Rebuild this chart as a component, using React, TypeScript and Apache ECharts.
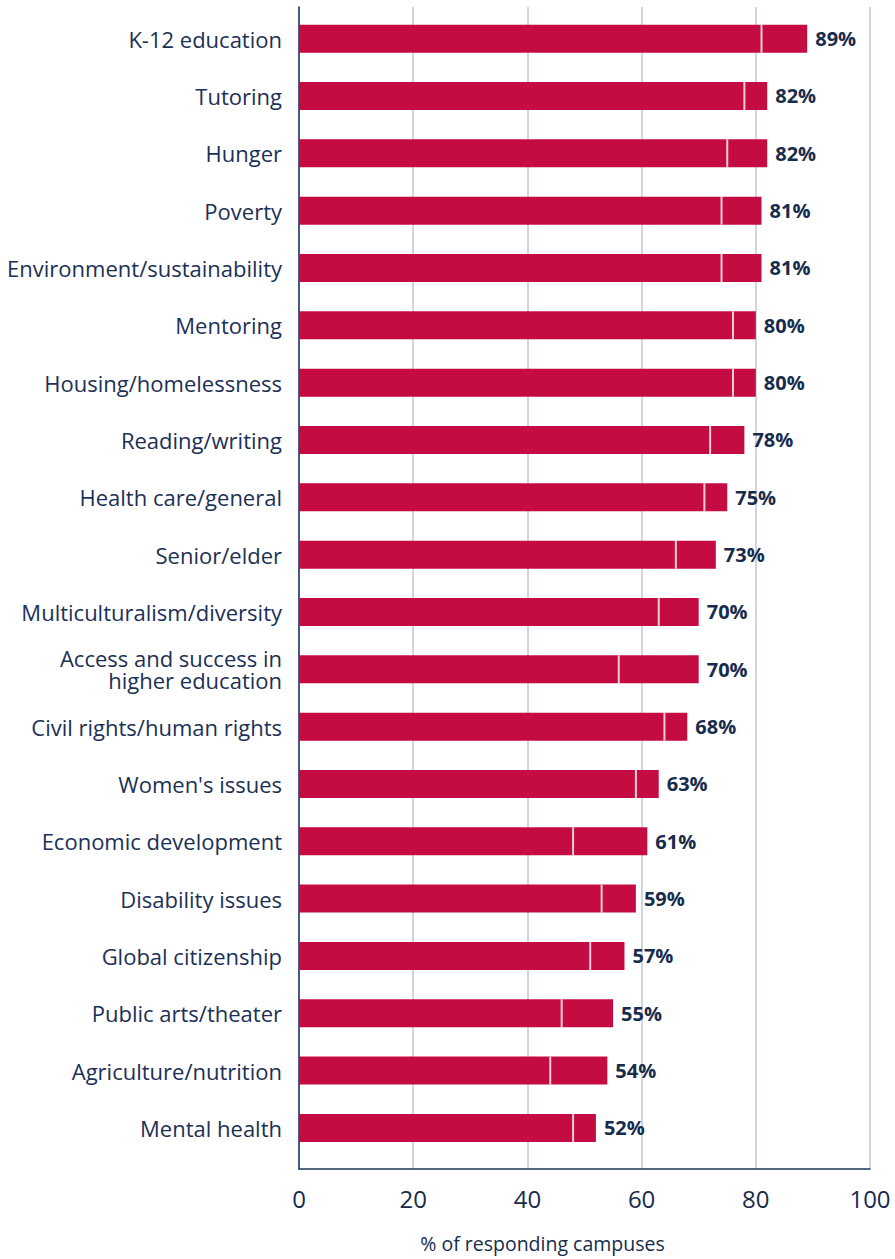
import React, { useEffect, useRef } from "react";
import * as echarts from "echarts";

const categories: string[] = [
  "K-12 education",
  "Tutoring",
  "Hunger",
  "Poverty",
  "Environment/sustainability",
  "Mentoring",
  "Housing/homelessness",
  "Reading/writing",
  "Health care/general",
  "Senior/elder",
  "Multiculturalism/diversity",
  "Access and success in\nhigher education",
  "Civil rights/human rights",
  "Women's issues",
  "Economic development",
  "Disability issues",
  "Global citizenship",
  "Public arts/theater",
  "Agriculture/nutrition",
  "Mental health",
];

const totalPct: number[] = [89, 82, 82, 81, 81, 80, 80, 78, 75, 73, 70, 70, 68, 63, 61, 59, 57, 55, 54, 52];
const dividerPct: number[] = [81, 78, 75, 74, 74, 76, 76, 72, 71, 66, 63, 56, 64, 59, 48, 53, 51, 46, 44, 48];

const xTicks = { min: 0, max: 100, interval: 20 };
const axisName = "% of responding campuses";

const FONT = "Open Sans";
const NAVY = "#172B4D";
const BAR = "#C40C42";

export default function App() {
  const ref = useRef<HTMLDivElement>(null);
  useEffect(() => {
    document.body.style.margin = "0";
    if (!ref.current) return;
    const chart = echarts.init(ref.current, undefined, { renderer: "svg" });
    chart.setOption({
      animation: false,
      backgroundColor: "#ffffff",
      grid: [
        { left: 299, right: 25, top: 10, bottom: 102.4, containLabel: false },
        { left: 299, right: 25, top: 7, bottom: 90, containLabel: false },
      ],
      xAxis: [
        { type: "value", gridIndex: 0, min: xTicks.min, max: xTicks.max, interval: xTicks.interval, show: false },
        {
          type: "value",
          gridIndex: 1,
          min: xTicks.min,
          max: xTicks.max,
          interval: xTicks.interval,
          axisLine: { show: true, lineStyle: { color: "#1D3557", width: 1.5 } },
          axisTick: { show: false },
          splitLine: { show: true, lineStyle: { color: "#BFC9D8", width: 1.5 } },
          axisLabel: { color: NAVY, fontFamily: FONT, fontSize: 24, margin: 17 },
          name: axisName,
          nameLocation: "middle",
          nameGap: 64,
          nameTextStyle: { color: NAVY, fontFamily: FONT, fontSize: 19.5, padding: [0, 84, 0, 0] },
        },
      ],
      yAxis: [
        {
          type: "category",
          gridIndex: 0,
          inverse: true,
          data: categories,
          axisLine: { show: false },
          axisTick: { show: false },
          axisLabel: {
            color: "#1B3056",
            fontFamily: FONT,
            fontSize: 22,
            margin: 17,
            lineHeight: 22,
            align: "right",
            padding: [4, 0, 0, 0],
          },
        },
        {
          type: "value",
          gridIndex: 1,
          min: 0,
          max: 1,
          axisLine: { show: true, lineStyle: { color: "#1D3557", width: 1.5 } },
          axisTick: { show: false },
          axisLabel: { show: false },
          splitLine: { show: false },
        },
      ],
      series: [
        {
          type: "bar",
          xAxisIndex: 0,
          yAxisIndex: 0,
          data: totalPct,
          barWidth: 28,
          itemStyle: { color: BAR },
          label: {
            show: true,
            position: "right",
            distance: 8,
            formatter: "{c}%",
            color: NAVY,
            fontFamily: FONT,
            fontWeight: "bold",
            fontSize: 20,
          },
          z: 2,
        },
        {
          type: "scatter",
          xAxisIndex: 0,
          yAxisIndex: 0,
          data: dividerPct.map((d, i) => [d, i]),
          symbol: "rect",
          symbolSize: [2, 28],
          itemStyle: { color: "#ffffff" },
          silent: true,
          z: 3,
        },
      ],
    });
    return () => chart.dispose();
  }, []);
  return <div ref={ref} style={{ width: 895, height: 1259 }} />;
}
